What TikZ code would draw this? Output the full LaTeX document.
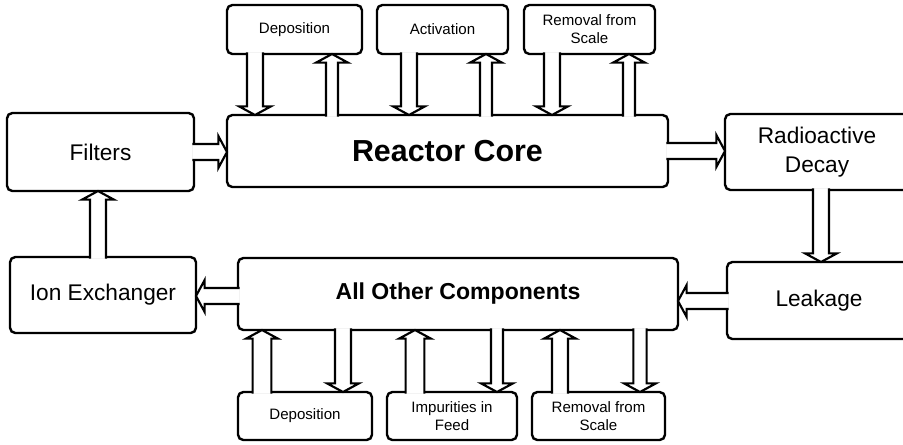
\documentclass[tikz,border=0pt]{standalone}
\usepackage{fontspec}
\setmainfont{Liberation Sans}
\usetikzlibrary{calc}
\tikzset{
  shaftw/.store in=\shaftw, shaftw=6pt,
  box/.style={draw=black, line width=1.8pt, rounded corners=4pt, inner sep=0pt,
    outer sep=0pt, align=center, fill=white},
  reg/.style={font=\fontsize{17}{21.5}\selectfont},
  sml/.style={font=\fontsize{11.3}{13.6}\selectfont},
  blockarr/.style={draw=black, fill=white, line width=1.6pt, line join=miter,
    to path={
      ($(\tikztostart)!-1.3pt!(\tikztotarget)$) coordinate (s0)
      ($(\tikztotarget)!6.5pt!(\tikztostart)$) coordinate (h0)
      ($(s0)!\shaftw!90:(\tikztotarget)$) -- ($(h0)!\shaftw!-90:(s0)$)
      -- ($(h0)!12pt!-90:(s0)$) -- (\tikztotarget) -- ($(h0)!12pt!90:(s0)$)
      -- ($(h0)!\shaftw!90:(s0)$) -- ($(s0)!\shaftw!-90:(\tikztotarget)$)
    }}
}
% name, x1, y1, x2, y2 (pixels), style, text
\newcommand\boxnode[7]{%
  \node[box, #6, minimum width={(#4-#2)*0.75pt}, minimum height={(#5-#3)*0.75pt}]
    (#1) at ({(#2+#4)/2},{(#3+#5)/2}) {#7};}
\begin{document}
\begin{tikzpicture}[x=0.75pt,y=-0.75pt]
\useasboundingbox (0,0) rectangle (903,444);
\clip (0,0) rectangle (903,444);
% top boxes
\boxnode{tdep}{227}{5}{362}{54}{sml}{Deposition}
\boxnode{tact}{377}{5}{508}{54}{sml}{Activation}
\boxnode{trem}{524}{5}{655}{54}{sml}{Removal from\\Scale}
% middle rows
\boxnode{core}{227}{115}{668}{187}{font=\fontsize{22.8}{27}\selectfont\bfseries}{Reactor Core}
\boxnode{filt}{7}{113}{194}{191}{reg}{Filters}
\boxnode{radio}{725}{114}{909}{190}{reg}{Radioactive\\Decay}
\boxnode{ion}{10}{257}{196}{333}{reg}{Ion Exchanger}
\boxnode{allo}{238}{258}{678}{330}{font=\fontsize{17.3}{21}\selectfont\bfseries}{All Other Components}
\boxnode{leak}{727}{262}{911}{339}{reg}{Leakage}
% bottom boxes
\boxnode{bdep}{238}{392}{372}{440}{sml}{Deposition}
\boxnode{bimp}{387}{392}{517}{440}{sml}{Impurities in\\Feed}
\boxnode{brem}{532}{392}{665}{440}{sml}{Removal from\\Scale}
% arrow positions
\coordinate (a1) at (255,0);
\coordinate (a2) at (332,0);
\coordinate (a3) at (409,0);
\coordinate (a4) at (486,0);
\coordinate (a5) at (552,0);
\coordinate (a6) at (629,0);
\coordinate (b1) at (262,0);
\coordinate (b2) at (343,0);
\coordinate (b3) at (415,0);
\coordinate (b4) at (497,0);
\coordinate (b5) at (560,0);
\coordinate (b6) at (640,0);
\coordinate (v1) at (821,0);
\coordinate (v2) at (98,0);
\coordinate (h1) at (0,152);
\coordinate (h2) at (0,151);
\coordinate (h3) at (0,301);
\coordinate (h4) at (0,296);
% top arrows
\draw[blockarr] (a1 |- tdep.south) to (a1 |- core.north);
\draw[blockarr, shaftw=4.5pt] (a2 |- core.north) to (a2 |- tdep.south);
\draw[blockarr] (a3 |- tact.south) to (a3 |- core.north);
\draw[blockarr, shaftw=4.5pt] (a4 |- core.north) to (a4 |- tact.south);
\draw[blockarr] (a5 |- trem.south) to (a5 |- core.north);
\draw[blockarr, shaftw=4.5pt] (a6 |- core.north) to (a6 |- trem.south);
% loop arrows
\draw[blockarr] (filt.east |- h1) to (core.west |- h1);
\draw[blockarr] (core.east |- h2) to (radio.west |- h2);
\draw[blockarr] (v1 |- radio.south) to (v1 |- leak.north);
\draw[blockarr] (leak.west |- h3) to (allo.east |- h3);
\draw[blockarr] (allo.west |- h4) to (ion.east |- h4);
\draw[blockarr] (v2 |- ion.north) to (v2 |- filt.south);
% bottom arrows
\draw[blockarr, shaftw=7pt] (b1 |- bdep.north) to (b1 |- allo.south);
\draw[blockarr] (b2 |- allo.south) to (b2 |- bdep.north);
\draw[blockarr, shaftw=7pt] (b3 |- bimp.north) to (b3 |- allo.south);
\draw[blockarr, shaftw=4.5pt] (b4 |- allo.south) to (b4 |- bimp.north);
\draw[blockarr] (b5 |- brem.north) to (b5 |- allo.south);
\draw[blockarr, shaftw=5pt] (b6 |- allo.south) to (b6 |- brem.north);
\end{tikzpicture}
\end{document}
